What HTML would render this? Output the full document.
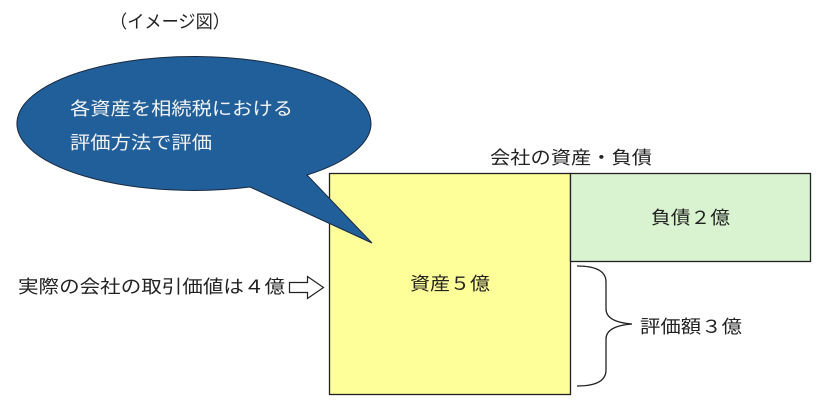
<!DOCTYPE html>
<html><head><meta charset="utf-8"><style>
html,body{margin:0;padding:0;background:#fff;}
svg{display:block;}
text{font-family:"Liberation Sans","Noto Sans CJK JP",sans-serif;font-size:18px;fill:#222;}
</style></head><body>
<svg width="819" height="401" viewBox="0 0 819 401" xmlns="http://www.w3.org/2000/svg">
<text x="110" y="28" textLength="120" lengthAdjust="spacingAndGlyphs">（イメージ図）</text>
<rect x="329.5" y="173.5" width="241" height="221" fill="#ffff99" stroke="#222" stroke-width="1.3"/>
<rect x="570.5" y="173.5" width="240" height="88" fill="#d9f2d0" stroke="#222" stroke-width="1.3"/>
<path d="M250,187 A177,67 0 1 1 307,175 L372,243 Z" fill="#215f9a" stroke="#1a2a40" stroke-width="1"/>
<text x="70" y="115" textLength="223" lengthAdjust="spacingAndGlyphs" style="fill:#f4f4f4">各資産を相続税における</text>
<text x="70" y="149" textLength="142" lengthAdjust="spacingAndGlyphs" style="fill:#f4f4f4">評価方法で評価</text>
<text x="490" y="164" textLength="162" lengthAdjust="spacingAndGlyphs">会社の資産・負債</text>
<text x="651" y="224" textLength="79" lengthAdjust="spacingAndGlyphs">負債２億</text>
<text x="410" y="290" textLength="80" lengthAdjust="spacingAndGlyphs">資産５億</text>
<text x="18" y="293" textLength="267" lengthAdjust="spacingAndGlyphs">実際の会社の取引価値は４億</text>
<path d="M289.5,282.5 H307.5 V276.5 L323.5,287.5 L307.5,298.5 V292.5 H289.5 Z" fill="#fff" stroke="#222" stroke-width="1.2"/>
<path d="M577,266 Q606,266 606,282 V309 Q606,322 632,324 Q606,326 606,339 V370 Q606,386 577,386" fill="none" stroke="#222" stroke-width="1.3"/>
<text x="640" y="333" textLength="102" lengthAdjust="spacingAndGlyphs">評価額３億</text>
</svg>
</body></html>
